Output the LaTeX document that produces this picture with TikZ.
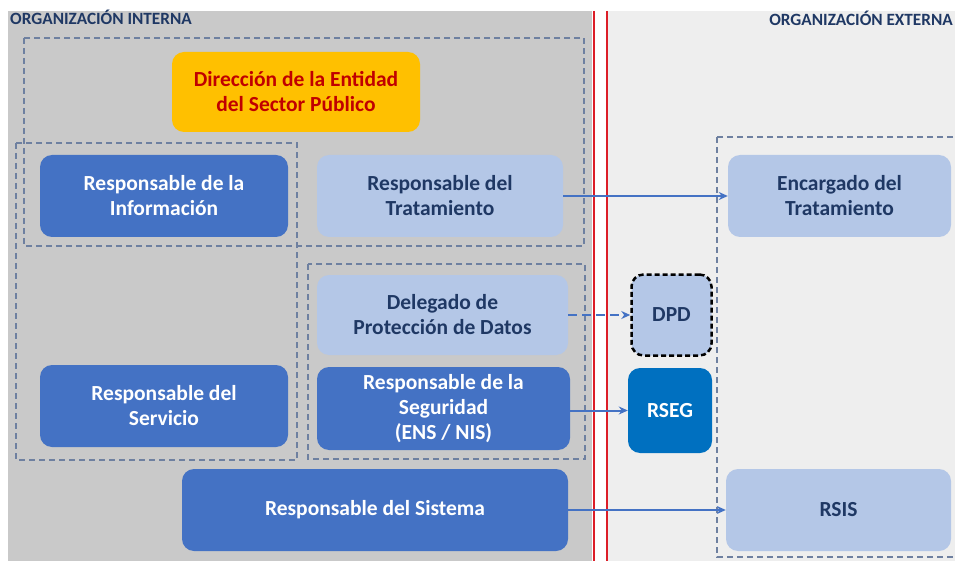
\documentclass[tikz,border=0pt]{standalone}
\usepackage{fontspec}
\setmainfont{Carlito}
\usetikzlibrary{arrows.meta}
\definecolor{leftbg}{RGB}{201,201,201}
\definecolor{rightbg}{RGB}{238,238,238}
\definecolor{darkblue}{RGB}{68,114,196}
\definecolor{lightblue}{RGB}{180,199,231}
\definecolor{rsegblue}{RGB}{0,112,192}
\definecolor{navy}{RGB}{31,56,100}
\definecolor{dashcol}{RGB}{110,128,160}
\definecolor{dirorange}{RGB}{255,192,0}
\definecolor{dirred}{RGB}{192,0,0}
\definecolor{redline}{RGB}{220,30,40}
\tikzset{
  x=1pt, y=-1pt,
  basebox/.style={rounded corners=12pt, inner sep=0pt, align=center,
    font=\fontsize{21.5}{25}\selectfont\bfseries},
  darkbox/.style={basebox, fill=darkblue, text=white},
  lightbox/.style={basebox, fill=lightblue, text=navy},
  groupbox/.style={draw=dashcol, line width=1.4pt, dash pattern=on 6pt off 4pt},
  conn/.style={draw=darkblue, line width=2pt, -{Stealth[length=9pt,width=8pt]}},
  title/.style={text=navy, font=\fontsize{17.2}{19}\selectfont\bfseries, inner sep=0pt}
}
\begin{document}
\begin{tikzpicture}
\useasboundingbox (0,0) rectangle (955,561);
\clip (0,0) rectangle (955,561);
\fill[white] (0,0) rectangle (955,561);
% backgrounds
\fill[leftbg] (8,11) rectangle (592,561);
\fill[rightbg] (608,11) rectangle (955,561);
\draw[redline, line width=2.5pt] (594,11) -- (594,561);
\draw[redline, line width=2.5pt] (607,11) -- (607,561);
% titles
\node[title, anchor=base west] (tin) at (10,25) {ORGANIZACIÓN INTERNA};
\node[title, anchor=base east] (tex) at (953,26) {ORGANIZACIÓN EXTERNA};
% dashed group boxes
\draw[groupbox] (24,38) rectangle (584,246);
\draw[groupbox] (16,143) rectangle (297,460);
\draw[groupbox] (308,264) rectangle (585,459);
\draw[groupbox] (717,137) rectangle (975,557);
% nodes
\node[basebox, fill=dirorange, text=dirred, minimum width=248pt, minimum height=80pt] (dir) at (296,92) {Dirección de la Entidad\\del Sector Público};
\node[darkbox, minimum width=248pt, minimum height=82pt] (info) at (164,196) {Responsable de la\\Información};
\node[lightbox, minimum width=246pt, minimum height=82pt] (trat) at (440,196) {Responsable del\\Tratamiento};
\node[lightbox, minimum width=223pt, minimum height=82pt] (enc) at (839.5,196) {Encargado del\\Tratamiento};
\node[lightbox, minimum width=251pt, minimum height=80pt] (deleg) at (442.5,315) {Delegado de\\Protección de Datos};
\node[darkbox, minimum width=253pt, minimum height=83pt] (seg) at (443.5,408.5) {Responsable de la\\Seguridad\\(ENS / NIS)};
\node[lightbox, minimum width=80pt, minimum height=81pt, draw=black, line width=2.5pt, dash pattern=on 5pt off 3pt] (dpd) at (671.5,315) {DPD};
\node[basebox, fill=rsegblue, text=white, minimum width=84pt, minimum height=85pt] (rseg) at (670,410.5) {RSEG};
\node[darkbox, minimum width=248pt, minimum height=82pt] (serv) at (164,406) {Responsable del\\Servicio};
\node[darkbox, minimum width=386pt, minimum height=82pt] (sys) at (375,510) {Responsable del Sistema};
\node[lightbox, minimum width=225pt, minimum height=82pt] (rsis) at (838.5,510) {RSIS};
% connectors
\draw[conn] (trat.east) -- (enc.west);
\draw[conn, dash pattern=on 9pt off 5pt] (deleg.east) -- (dpd.west);
\draw[conn] (seg.east |- rseg.west) -- (rseg.west);
\draw[conn] (sys.east) -- (rsis.west);
\end{tikzpicture}
\end{document}
